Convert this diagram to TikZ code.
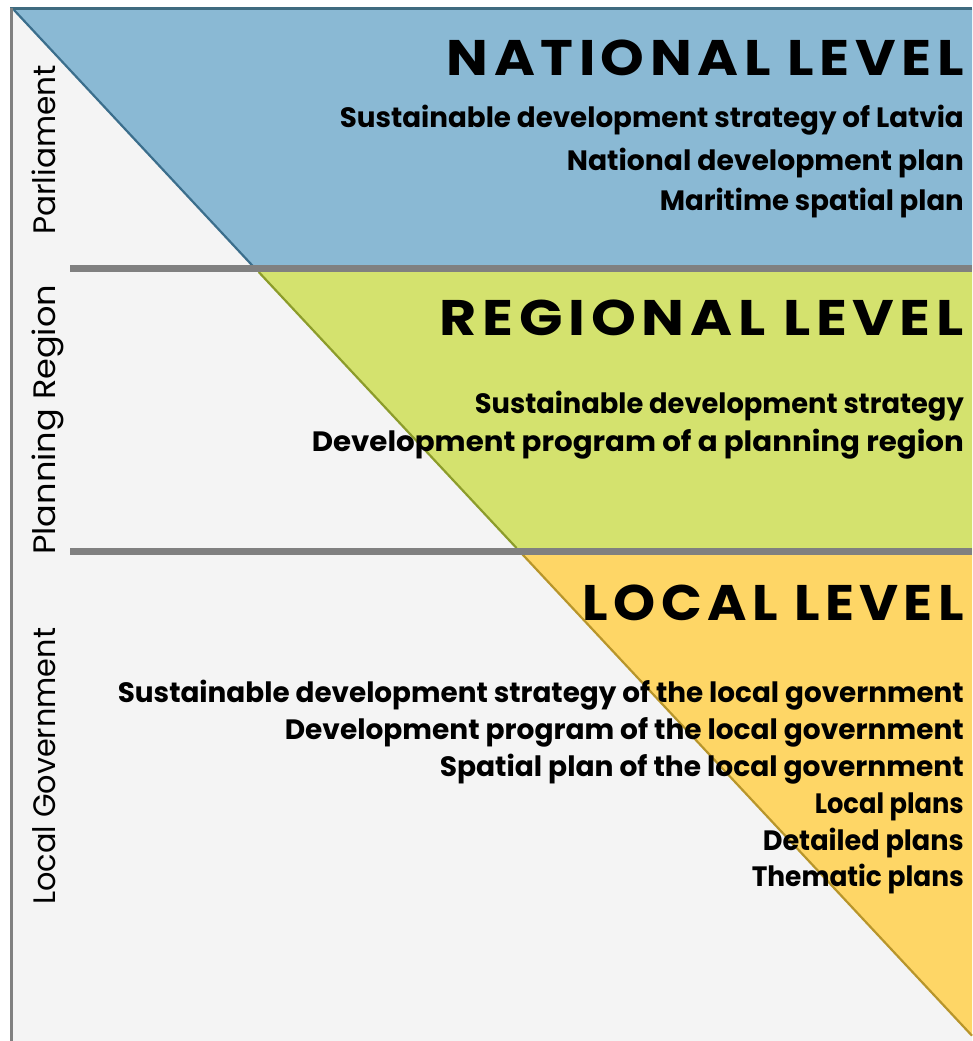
\documentclass[tikz,border=0pt]{standalone}
\usepackage{fontspec}
\setmainfont{Poppins}
\newfontfamily\headf[LetterSpace=10]{Poppins}
\newlength\fitlen
\newcommand\fitto[2]{\settowidth\fitlen{#2}\pgfmathsetmacro\fitratio{#1/\fitlen}\scalebox{\fitratio}[1]{#2}}
\definecolor{bgc}{HTML}{F4F4F4}
\definecolor{bluef}{HTML}{8AB9D4}
\definecolor{bluee}{HTML}{3B6E8C}
\definecolor{topline}{HTML}{3F6B80}
\definecolor{greenf}{HTML}{D4E26E}
\definecolor{greene}{HTML}{8C9C2A}
\definecolor{yellowf}{HTML}{FED666}
\definecolor{yellowe}{HTML}{B8952A}
\definecolor{barc}{HTML}{808080}
\tikzset{
  head/.style={anchor=base east, inner sep=0pt, font=\headf\bfseries\fontsize{50}{50}\selectfont},
  item/.style={anchor=base east, inner sep=0pt, font=\bfseries\fontsize{28}{28}\selectfont},
  side/.style={anchor=base west, rotate=90, inner sep=0pt, font=\fontsize{31}{31}\selectfont},
  bar/.style={draw=barc, line width=7pt},
  edge/.style={line width=2.2pt},
}
\begin{document}
\begin{tikzpicture}[x=1pt,y=-1pt]
\useasboundingbox (0,0) rectangle (972,1041);
\fill[white] (0,0) rectangle (972,1041);
\fill[bgc] (11,9) rectangle (972,1041);
% level shapes
\fill[bluef] (12,9) -- (972,9) -- (972,269) -- (255.6,269) -- cycle;
\fill[greenf] (255.6,269) -- (972,269) -- (972,551) -- (519.3,551) -- cycle;
\fill[yellowf] (519.3,551) -- (972,551) -- (972,1035.7) -- cycle;
\draw[edge, bluee] (14,10) -- (255.6,269);
\draw[edge, greene] (258.7,272) -- (516.5,548);
\draw[edge, yellowe] (522.1,554) -- (972,1035.7);
% bars
\coordinate (b1a) at (70,268.5); \coordinate (b1b) at (972,268.5);
\coordinate (b2a) at (70,551); \coordinate (b2b) at (972,551);
\draw[bar] (b1a) -- (b1b);
\draw[bar] (b2a) -- (b2b);
% frame
\draw[topline, line width=3pt] (10,9) -- (972,9);
\draw[barc, line width=3pt] (11,8) -- (11,1041);
% headings
\node[head] (nat) at (964,75) {\fitto{517pt}{NATIONAL LEVEL}};
\node[head] (reg) at (964,335) {\fitto{524pt}{REGIONAL LEVEL}};
\node[head] (loc) at (964,620) {\fitto{381pt}{LOCAL LEVEL}};
% national items
\node[item] (n1) at (964,127) {\fitto{624pt}{Sustainable development strategy of Latvia}};
\node[item] (n2) at (964,170) {\fitto{397pt}{National development plan}};
\node[item] (n3) at (964,210) {\fitto{304pt}{Maritime spatial plan}};
% regional items
\node[item] (r1) at (964,413) {\fitto{489pt}{Sustainable development strategy}};
\node[item] (r2) at (964,451) {\fitto{652pt}{Development program of a planning region}};
% local items
\node[item] (l1) at (964,702) {\fitto{846pt}{Sustainable development strategy of the local government}};
\node[item] (l2) at (964,739) {\fitto{679pt}{Development program of the local government}};
\node[item] (l3) at (964,776) {\fitto{524pt}{Spatial plan of the local government}};
\node[item] (l4) at (964,813) {\fitto{149pt}{Local plans}};
\node[item] (l5) at (964,850) {\fitto{201pt}{Detailed plans}};
\node[item] (l6) at (964,886) {\fitto{212pt}{Thematic plans}};
% side labels
\node[side] (s1) at (55,235) {\fitto{170pt}{Parliament}};
\node[side] (s2) at (55,555) {\fitto{270pt}{Planning Region}};
\node[side] (s3) at (55,905) {\fitto{277pt}{Local Government}};
\end{tikzpicture}
\end{document}
